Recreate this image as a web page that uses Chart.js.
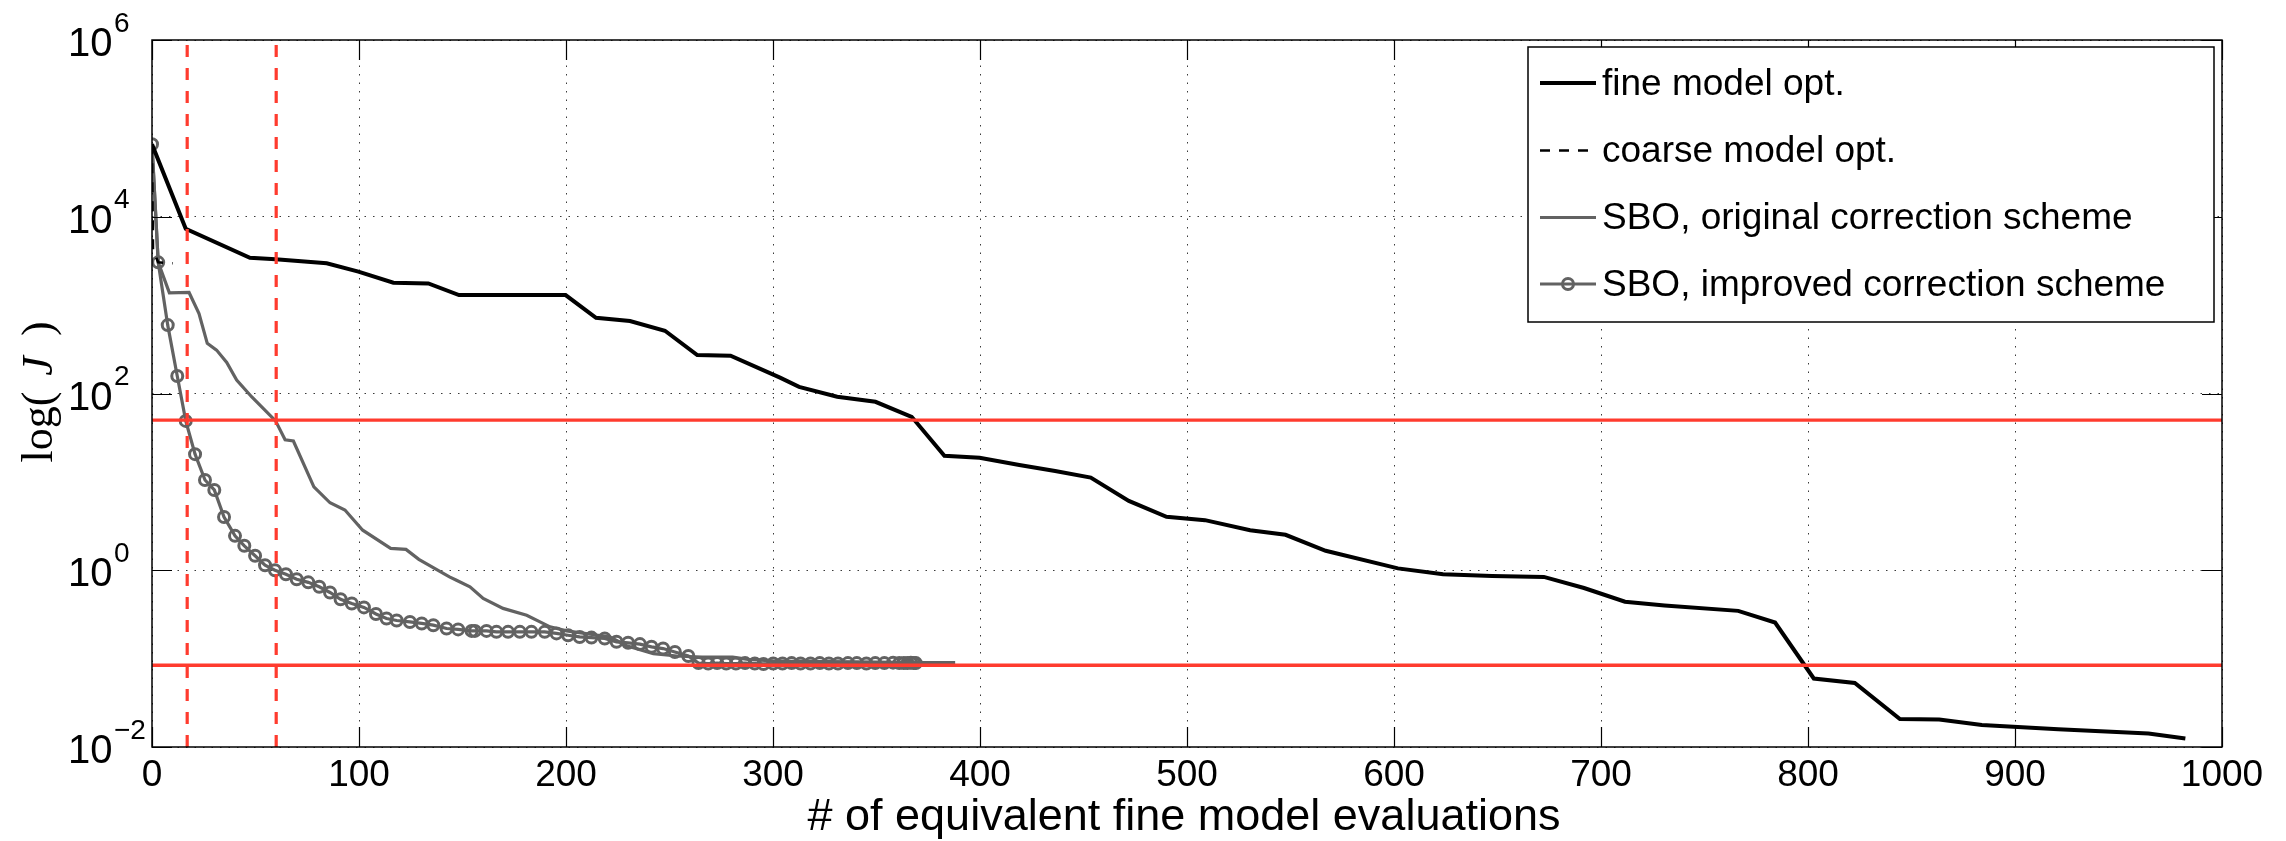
<!DOCTYPE html>
<html>
<head>
<meta charset="utf-8">
<script src="https://cdn.jsdelivr.net/npm/chart.js@4.4.1/dist/chart.umd.min.js"></script>
<style>
html, body { margin: 0; padding: 0; background: #fff; }
#wrap { width: 2286px; height: 841px; }
</style>
</head>
<body>
<div id="wrap"><canvas id="chart" width="2286" height="841"></canvas></div>
<script>
// values (x = # of equivalent fine model evaluations, y = J)
var fineX = [0, 16.3, 47.3, 59.7, 84.4, 99.7, 116.6, 133.5, 148.3, 199.8, 214.5, 230.9, 247.8, 263.4, 279.5, 303.4, 312.6, 331, 349.5, 367, 382.8, 399.8, 419, 436.3, 453.5, 471.9, 490.1, 508.7, 530.5, 547.6, 567, 601.9, 623.7, 647.4, 672.4, 691.8, 711.6, 730.7, 766.3, 784.1, 802.8, 822.6, 844.4, 863.4, 884, 920.9, 964.5, 982.3];
var fineY = [66000, 7300, 3440, 3300, 2970, 2390, 1790, 1760, 1300, 1300, 720, 660, 513, 272, 268, 151, 119, 92, 80.6, 54.5, 19.7, 18.7, 15.5, 13.3, 11.2, 6.1, 4.03, 3.69, 2.84, 2.52, 1.66, 1.05, 0.90, 0.86, 0.84, 0.63, 0.44, 0.40, 0.347, 0.256, 0.0596, 0.053, 0.0207, 0.0205, 0.0177, 0.0159, 0.0142, 0.0125];

var coarseX = [0, 0.5, 3, 10];
var coarseY = [66000, 4200, 3050, 2970];

var origX = [0, 3, 8.4, 17.9, 22.7, 26.7, 31.2, 36.1, 40.9, 48.1, 59.7, 64.3, 68.3, 78.2, 86, 93.2, 101.8, 115.3, 122.7, 128.9, 143.7, 147.1, 153.6, 160, 169.6, 181, 192.3, 200.3, 221.3, 229.3, 242.2, 253.5, 265.7, 280.5, 287.9, 300, 340, 369, 388];
var origY = [66000, 3050, 1380, 1390, 805, 369, 310, 225, 142, 92, 49, 30, 29, 8.8, 5.8, 4.8, 2.84, 1.77, 1.72, 1.33, 0.84, 0.77, 0.65, 0.48, 0.37, 0.31, 0.229, 0.206, 0.176, 0.14, 0.114, 0.107, 0.104, 0.104, 0.098, 0.094, 0.092, 0.09, 0.09];

var imprX = [0, 3, 7.6, 12.2, 16.3, 20.8, 25.6, 30.1, 34.8, 40.1, 44.6, 49.8, 54.6, 59.4, 64.7, 69.9, 75.5, 80.8, 86, 91.1, 96.5, 102.4, 108.2, 113.3, 118.2, 124.6, 130.3, 135.9, 142.3, 147.9, 154.4, 156, 161.6, 166.4, 172, 177.7, 183.3, 189.7, 195.4, 201, 206.6, 212.3, 218.7, 224.4, 230, 235.7, 241.3, 246.9, 252.6, 259.1, 264, 268.7, 273, 277.4, 282.1, 286.5, 291.2, 295.4, 300.1, 304.6, 309, 313.3, 318.1, 322.6, 327, 331.4, 336.2, 340.5, 345.1, 349.4, 353.8, 358, 361, 363.2, 365, 366.6, 368, 369];
var imprY = [66000, 3050, 594, 158, 49, 20.6, 10.5, 8.1, 4.0, 2.45, 1.89, 1.46, 1.14, 1.0, 0.90, 0.79, 0.73, 0.65, 0.56, 0.47, 0.42, 0.38, 0.32, 0.284, 0.27, 0.26, 0.25, 0.239, 0.219, 0.214, 0.206, 0.206, 0.206, 0.201, 0.201, 0.201, 0.201, 0.201, 0.193, 0.184, 0.176, 0.173, 0.169, 0.155, 0.151, 0.146, 0.136, 0.130, 0.119, 0.107, 0.089, 0.088, 0.089, 0.088, 0.088, 0.089, 0.088, 0.087, 0.088, 0.088, 0.089, 0.088, 0.088, 0.089, 0.088, 0.088, 0.089, 0.089, 0.088, 0.089, 0.089, 0.09, 0.089, 0.089, 0.089, 0.09, 0.089, 0.089];

var thresholdY = [50, 0.084];
var markerX = [17, 60];

var xTicks = [0, 100, 200, 300, 400, 500, 600, 700, 800, 900, 1000];
var yTickExps = [-2, 0, 2, 4, 6];

var seriesNames = ['fine model opt.', 'coarse model opt.', 'SBO, original correction scheme', 'SBO, improved correction scheme'];

var RED = '#ff3b2e';
var GRAY = '#626262';
var SANS = '"Liberation Sans", Arial, sans-serif';
var SERIF = '"Liberation Serif", "Times New Roman", serif';

function pts(xs, ys) {
    return xs.map(function(x, i) { return { x: x, y: ys[i] }; });
}

var datasets = [];
thresholdY.forEach(function(v) {
    datasets.push({ data: pts([0, 1000], [v, v]), showLine: true, borderColor: RED, borderWidth: 3.4, pointRadius: 0 });
});
markerX.forEach(function(v) {
    datasets.push({ data: pts([v, v], [1e-2, 1e6]), showLine: true, borderColor: RED, borderWidth: 3.2, borderDash: [12, 11], pointRadius: 0 });
});
var fineDs = { label: seriesNames[0], data: pts(fineX, fineY), showLine: true, borderColor: '#000', borderWidth: 4, pointRadius: 0 };
var coarseDs = { label: seriesNames[1], data: pts(coarseX, coarseY), showLine: true, borderColor: '#000', borderWidth: 2.5, borderDash: [10, 9], pointRadius: 0 };
var origDs = { label: seriesNames[2], data: pts(origX, origY), showLine: true, borderColor: GRAY, borderWidth: 3.2, pointRadius: 0 };
var imprDs = { label: seriesNames[3], data: pts(imprX, imprY), showLine: true, borderColor: GRAY, borderWidth: 3.2,
    pointRadius: 5.5, pointBorderWidth: 3, pointBorderColor: GRAY, pointBackgroundColor: 'rgba(0,0,0,0)' };
datasets.push(fineDs, coarseDs, origDs, imprDs);

var decor = {
    id: 'decor',
    afterDatasetsDraw: function(chart) {
        var ctx = chart.ctx, a = chart.chartArea;
        var xs = chart.scales.x, ys = chart.scales.y;
        ctx.save();
        // inward tick marks on all four sides
        ctx.strokeStyle = '#000';
        ctx.lineWidth = 1.2;
        ctx.beginPath();
        xTicks.forEach(function(v) {
            var px = Math.round(xs.getPixelForValue(v)) + 0.5;
            ctx.moveTo(px, a.bottom); ctx.lineTo(px, a.bottom - 20);
            ctx.moveTo(px, a.top); ctx.lineTo(px, a.top + 20);
        });
        yTickExps.forEach(function(e) {
            var py = Math.round(ys.getPixelForValue(Math.pow(10, e))) + 0.5;
            ctx.moveTo(a.left, py); ctx.lineTo(a.left + 20, py);
            ctx.moveTo(a.right, py); ctx.lineTo(a.right - 20, py);
        });
        ctx.stroke();
        ctx.lineWidth = 1.5;
        ctx.strokeRect(a.left, a.top, a.right - a.left, a.bottom - a.top);

        // y tick labels 10^n
        ctx.fillStyle = '#000';
        ctx.textAlign = 'left';
        ctx.textBaseline = 'alphabetic';
        yTickExps.forEach(function(e) {
            var py = ys.getPixelForValue(Math.pow(10, e));
            ctx.font = '40px ' + SANS;
            ctx.fillText('10', 68, py + 16);
            ctx.font = '28px ' + SANS;
            ctx.fillText(e < 0 ? '\u2212' + (-e) : String(e), 114, py - 8.5);
        });

        // x axis title
        ctx.font = '45px ' + SANS;
        ctx.textAlign = 'center';
        ctx.fillText('# of equivalent fine model evaluations', 1184, 830);

        // y axis title: log( J )
        ctx.save();
        ctx.translate(52, 392);
        ctx.rotate(-Math.PI / 2);
        var parts = [
            ['log(', '44px ' + SERIF, 0],
            ['J', 'italic 44px ' + SERIF, 16],
            [')', '44px ' + SERIF, 20]
        ];
        var total = 0;
        parts.forEach(function(p) { ctx.font = p[1]; total += p[2] + ctx.measureText(p[0]).width; });
        var cx = -total / 2;
        ctx.textAlign = 'left';
        parts.forEach(function(p) {
            ctx.font = p[1];
            cx += p[2];
            ctx.fillText(p[0], cx, 0);
            cx += ctx.measureText(p[0]).width;
        });
        ctx.restore();
        ctx.restore();
    },
    afterDraw: function(chart) {
        var ctx = chart.ctx;
        var bx = 1528, by = 47, bw = 686, bh = 275;
        var rows = [83, 150.5, 217.5, 284];
        var legendSets = [fineDs, coarseDs, origDs, imprDs];
        ctx.save();
        ctx.fillStyle = '#fff';
        ctx.fillRect(bx, by, bw, bh);
        ctx.strokeStyle = '#000';
        ctx.lineWidth = 1.5;
        ctx.strokeRect(bx, by, bw, bh);
        legendSets.forEach(function(ds, i) {
            var y = rows[i];
            ctx.strokeStyle = ds.borderColor;
            ctx.lineWidth = ds.borderWidth;
            ctx.setLineDash(ds.borderDash || []);
            ctx.beginPath();
            ctx.moveTo(1540, y); ctx.lineTo(1596, y);
            ctx.stroke();
            ctx.setLineDash([]);
            if (ds.pointRadius) {
                ctx.lineWidth = ds.pointBorderWidth;
                ctx.beginPath();
                ctx.arc(1568, y, ds.pointRadius, 0, Math.PI * 2);
                ctx.stroke();
            }
            ctx.fillStyle = '#000';
            ctx.font = '37px ' + SANS;
            ctx.textAlign = 'left';
            ctx.textBaseline = 'middle';
            ctx.fillText(seriesNames[i], 1602, y + 1.5);
        });
        ctx.restore();
    }
};

new Chart(document.getElementById('chart'), {
    type: 'scatter',
    data: { datasets: datasets },
    options: {
        responsive: false,
        animation: false,
        devicePixelRatio: 1,
        layout: { padding: { top: 40, right: 64, left: 0, bottom: 0 } },
        plugins: { legend: { display: false }, tooltip: { enabled: false } },
        elements: { line: { tension: 0 } },
        scales: {
            x: {
                type: 'linear', min: 0, max: 1000,
                afterBuildTicks: function(s) { s.ticks = xTicks.map(function(v) { return { value: v }; }); },
                ticks: {
                    color: '#000', font: { family: SANS, size: 37 }, padding: 7, maxRotation: 0, autoSkip: false,
                    callback: function(v) { return String(v); }
                },
                grid: { color: '#3a3a3a', lineWidth: 1, drawTicks: false },
                border: { display: false, dash: [1.5, 7] },
                afterFit: function(s) { s.height = 94; s.paddingLeft = 0; s.paddingRight = 0; }
            },
            y: {
                type: 'logarithmic', min: 1e-2, max: 1e6,
                afterBuildTicks: function(s) { s.ticks = yTickExps.map(function(e) { return { value: Math.pow(10, e) }; }); },
                ticks: { display: false },
                grid: { color: '#3a3a3a', lineWidth: 1, drawTicks: false },
                border: { display: false, dash: [1.5, 7] },
                afterFit: function(s) { s.width = 152; s.paddingTop = 0; s.paddingBottom = 0; }
            }
        }
    },
    plugins: [decor]
});
</script>
</body>
</html>
